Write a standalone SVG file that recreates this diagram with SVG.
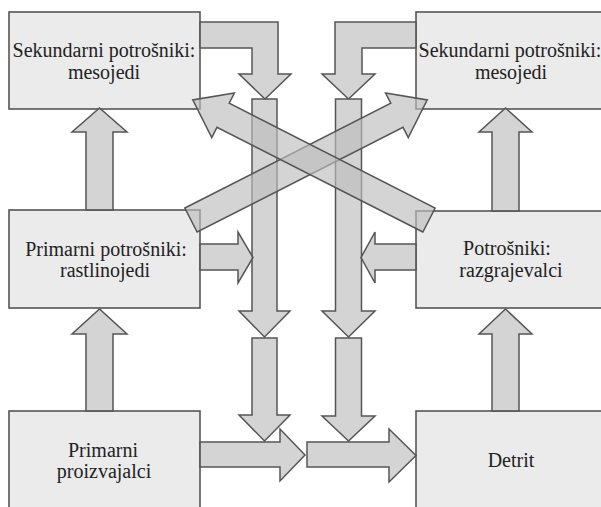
<svg xmlns="http://www.w3.org/2000/svg" width="601" height="507" viewBox="0 0 601 507">
<style>
.box{fill:#ebebeb;stroke:#555;stroke-width:1.6}
.ar{fill:#bdbdbd;fill-opacity:0.65;stroke:#555;stroke-width:1.5;stroke-linejoin:miter}
</style>
<rect width="601" height="507" fill="#fff"/>
<g font-family="Liberation Serif, DejaVu Serif, serif" font-size="20" fill="#222" text-anchor="middle">
<g id="n_sek_left"><rect class="box" x="9" y="12" width="191" height="97"/><text x="104" y="57">Sekundarni potrošniki:</text><text x="104" y="79">mesojedi</text></g>
<g id="n_sek_right"><rect class="box" x="416" y="12" width="192" height="97"/><text x="510" y="57">Sekundarni potrošniki:</text><text x="511" y="79">mesojedi</text></g>
<g id="n_prim_potr"><rect class="box" x="9" y="210" width="191" height="98"/><text x="106" y="256">Primarni potrošniki:</text><text x="105" y="277">rastlinojedi</text></g>
<g id="n_razgr"><rect class="box" x="416" y="211" width="192" height="97"/><text x="507" y="255">Potrošniki:</text><text x="511" y="277">razgrajevalci</text></g>
<g id="n_proizv"><rect class="box" x="9" y="411" width="191" height="100"/><text x="103" y="457">Primarni</text><text x="104" y="478">proizvajalci</text></g>
<g id="n_detrit"><rect class="box" x="416" y="411" width="192" height="100"/><text x="511" y="467">Detrit</text></g>
</g>
<g id="connectors">
<polygon class="ar" points="200,22 278,22 278,74 291,74 265,99 239,74 252,74 252,48 200,48"/>
<polygon class="ar" points="416,22 335,22 335,74 322,74 348.5,99 375,74 362,74 362,48 416,48"/>
<polygon class="ar" points="252,99 277,99 277,311 290,311 264.5,337 239,311 252,311"/>
<polygon class="ar" points="252,338 277,338 277,415 290,415 264.5,441 239,415 252,415"/>
<polygon class="ar" points="335.5,99 361.5,99 361.5,311 375,311 348.5,337 322,311 335.5,311"/>
<polygon class="ar" points="335.5,338 361.5,338 361.5,416 375,416 348.5,441 322,416 335.5,416"/>
<polygon class="ar" points="200,442 280,442 280,429 305,455 280,481 280,467 200,467"/>
<polygon class="ar" points="307,442 389,442 389,429 416,455.5 389,482 389,467 307,467"/>
<polygon class="ar" points="200,244 238,244 238,232 253,257.5 238,283 238,270 200,270"/>
<polygon class="ar" points="416,244 375,244 375,232 361,257.5 375,283 375,270 416,270"/>
<polygon class="ar" points="86,210 86,132 72,132 99.5,108 127,132 113,132 113,210"/>
<polygon class="ar" points="86,411 86,334 72,334 99.5,309 127,334 113,334 113,411"/>
<polygon class="ar" points="492,211 492,132 479,132 505.5,108 532,132 519,132 519,211"/>
<polygon class="ar" points="492,411 492,334 479,334 505.5,309 532,334 519,334 519,411"/>
<polygon class="ar" transform="translate(191,220) rotate(-26.95)" points="0,-13.5 231,-13.5 231,-25 265,0 231,25 231,13.5 0,13.5"/>
<polygon class="ar" transform="translate(429,220) rotate(-153.05)" points="0,-13.5 231,-13.5 231,-25 265,0 231,25 231,13.5 0,13.5"/>
</g>
</svg>
